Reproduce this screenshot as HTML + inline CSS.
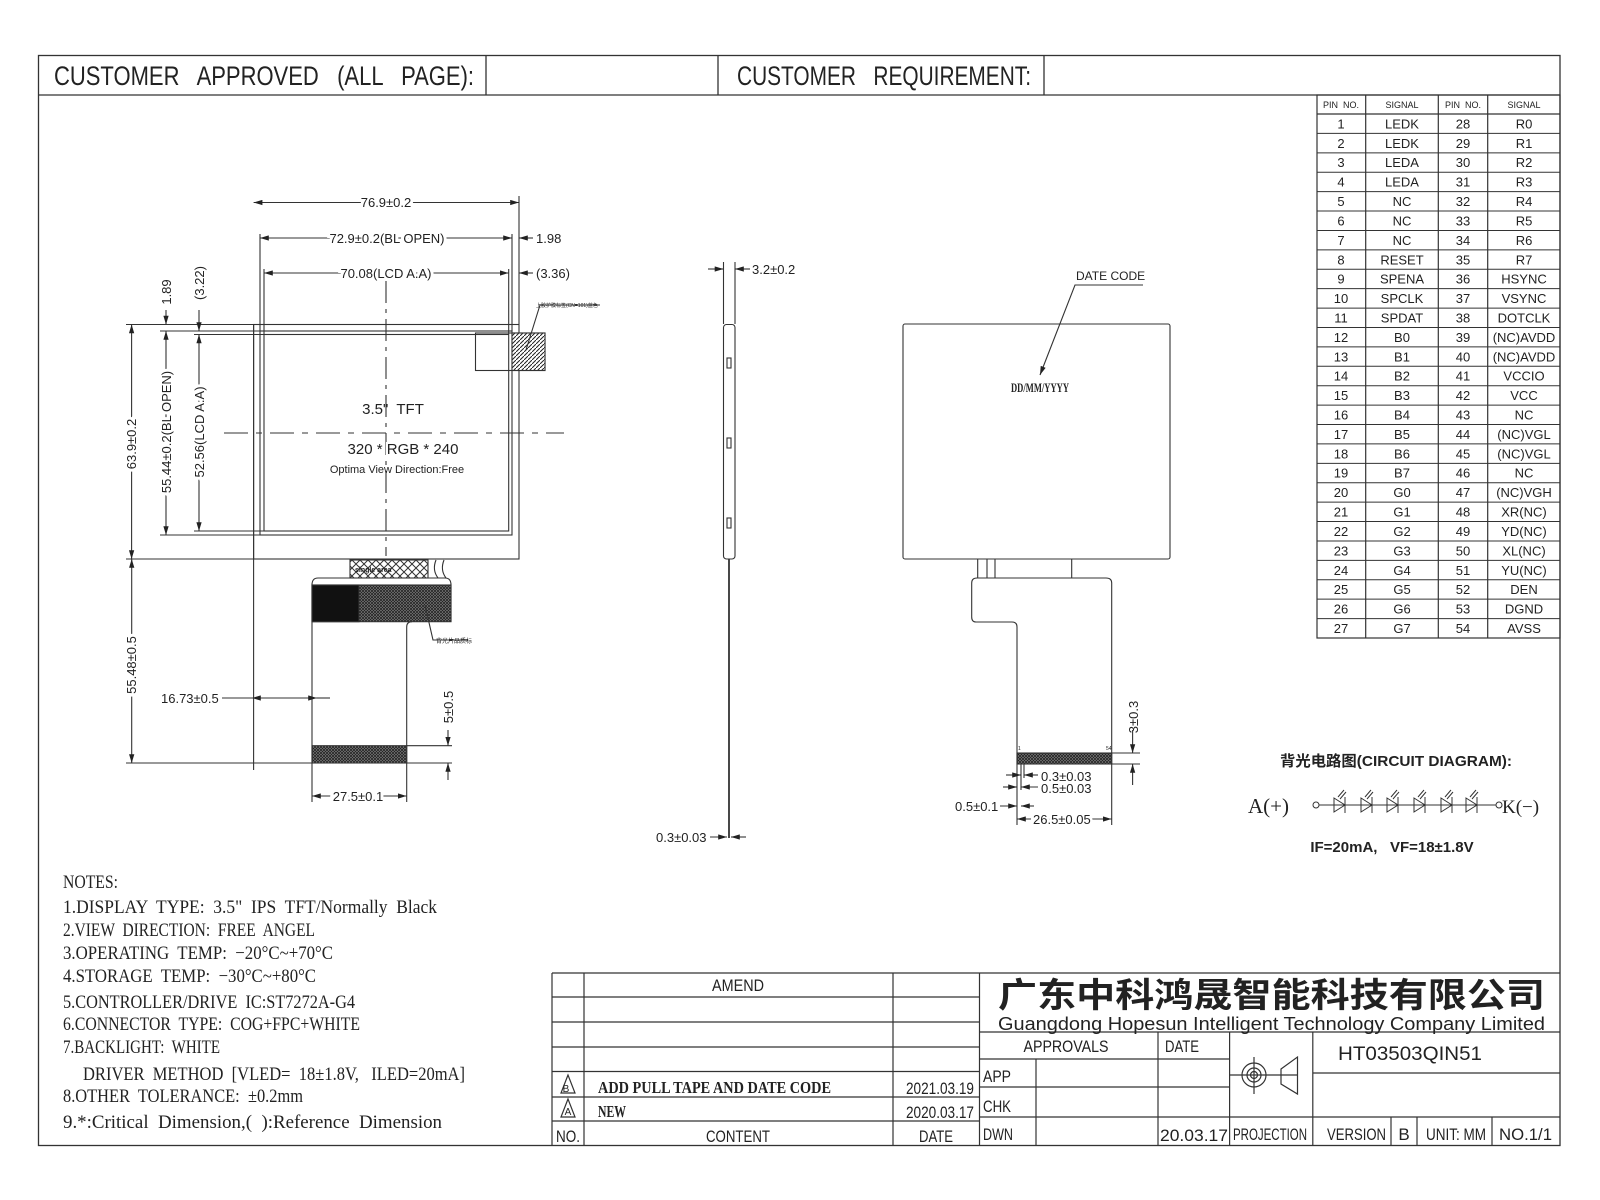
<!DOCTYPE html>
<html><head><meta charset="utf-8"><style>
html,body{margin:0;padding:0;background:#fff;}
svg{display:block;}
text{fill:#222;white-space:pre;}
.s{font-family:"Liberation Sans",sans-serif;}
.sr{font-family:"Liberation Serif",serif;}
.cj{font-family:"Liberation Sans","Noto Sans CJK SC",sans-serif;}
</style></head><body>
<svg width="1600" height="1200" viewBox="0 0 1600 1200" xmlns="http://www.w3.org/2000/svg" xml:space="preserve">
<defs>
<pattern id="xh" width="8" height="8" patternUnits="userSpaceOnUse"><rect width="8" height="8" fill="#fff"/><path d="M0 0L8 8M8 0L0 8" stroke="#333" stroke-width="1"/></pattern>
<pattern id="dh" width="3" height="3" patternUnits="userSpaceOnUse"><rect width="3" height="3" fill="#888"/><path d="M0 0L3 3M3 0L0 3" stroke="#222" stroke-width="0.8"/></pattern>
<pattern id="lh" width="4" height="4" patternUnits="userSpaceOnUse"><rect width="4" height="4" fill="#fff"/><path d="M0 4L4 0" stroke="#222" stroke-width="1"/></pattern>
<marker id="ar" viewBox="0 0 10 6" refX="10" refY="3" markerWidth="8" markerHeight="5" orient="auto-start-reverse"><path d="M0 0L10 3L0 6z" fill="#222"/></marker>
</defs>
<g stroke="#333" stroke-width="1.3" fill="none">
<rect x="38.5" y="55.5" width="1521.5" height="1090"/>
<line x1="38" y1="95" x2="1560" y2="95"/>
<line x1="486" y1="55" x2="486" y2="95"/>
<line x1="718" y1="55" x2="718" y2="95"/>
<line x1="1044" y1="55" x2="1044" y2="95"/>
</g>
<text class="s" x="54" y="85" font-size="27" textLength="420" lengthAdjust="spacingAndGlyphs">CUSTOMER   APPROVED   (ALL   PAGE):</text>
<text class="s" x="737" y="85" font-size="27" textLength="294" lengthAdjust="spacingAndGlyphs">CUSTOMER   REQUIREMENT:</text>

<g stroke="#333" stroke-width="1.2" fill="none">
<rect x="1317" y="95" width="243" height="543"/>
<line x1="1365.7" y1="95" x2="1365.7" y2="638"/>
<line x1="1438.3" y1="95" x2="1438.3" y2="638"/>
<line x1="1487.7" y1="95" x2="1487.7" y2="638"/>
<line x1="1317" y1="114" x2="1560" y2="114"/>
</g>
<g id="rows" stroke="#333" stroke-width="1"></g>
<g class="s" font-size="13" text-anchor="middle" id="pins">
<text x="1341" y="108" font-size="9">PIN  NO.</text><text x="1402" y="108" font-size="9">SIGNAL</text><text x="1463" y="108" font-size="9">PIN  NO.</text><text x="1524" y="108" font-size="9">SIGNAL</text>
</g>

<g stroke="#333" stroke-width="1.1" fill="none">
<rect x="253.6" y="324.5" width="265.4" height="234.5"/>
<rect x="260" y="331" width="252" height="204"/>
<rect x="264" y="334.5" width="244.7" height="196.5"/>
<rect x="475.5" y="333" width="69.5" height="37.5"/>
<rect x="512" y="333" width="33" height="37.5" fill="url(#lh)"/>
<path d="M526 350L540 305H600"/>
<line x1="386" y1="281" x2="386" y2="556" stroke-dasharray="22 6 4 6"/>
<line x1="224" y1="433" x2="564" y2="433" stroke-dasharray="24 8 6 8"/>
<line x1="253.6" y1="324" x2="253.6" y2="770"/>
<line x1="519" y1="324" x2="519" y2="196"/>
<line x1="253.6" y1="202.5" x2="519" y2="202.5" marker-start="url(#ar)" marker-end="url(#ar)"/>
<line x1="260" y1="331" x2="260" y2="234"/>
<line x1="512" y1="331" x2="512" y2="234"/>
<line x1="260" y1="238" x2="512" y2="238" marker-start="url(#ar)" marker-end="url(#ar)"/>
<line x1="519" y1="238" x2="533" y2="238" marker-start="url(#ar)"/>
<line x1="264" y1="334" x2="264" y2="269"/>
<line x1="508.7" y1="334" x2="508.7" y2="269"/>
<line x1="264" y1="273" x2="508.7" y2="273" marker-start="url(#ar)" marker-end="url(#ar)"/>
<line x1="519" y1="273" x2="533" y2="273" marker-start="url(#ar)"/>
<line x1="126" y1="324.5" x2="253.6" y2="324.5"/>
<line x1="160" y1="331" x2="260" y2="331"/>
<line x1="194" y1="334.5" x2="264" y2="334.5"/>
<line x1="160" y1="535" x2="260" y2="535"/>
<line x1="194" y1="531" x2="264" y2="531"/>
<line x1="126" y1="559" x2="253.6" y2="559"/>
<line x1="131.6" y1="324.5" x2="131.6" y2="559" marker-start="url(#ar)" marker-end="url(#ar)"/>
<line x1="166" y1="331" x2="166" y2="535" marker-start="url(#ar)" marker-end="url(#ar)"/>
<line x1="199" y1="334.5" x2="199" y2="531" marker-start="url(#ar)" marker-end="url(#ar)"/>
<line x1="166" y1="310" x2="166" y2="324.5" marker-end="url(#ar)"/>
<line x1="199" y1="310" x2="199" y2="331" marker-end="url(#ar)"/>
<line x1="131.7" y1="559" x2="131.7" y2="763" marker-start="url(#ar)" marker-end="url(#ar)"/>
<line x1="126" y1="763" x2="312" y2="763"/>
<rect x="350" y="560" width="78" height="18" fill="url(#xh)"/>
<path d="M312 621.7V585Q312 578 318 578H445Q451 578 451 585V621.7"/>
<rect x="312" y="585" width="139" height="36.7" fill="url(#dh)"/>
<rect x="312" y="585" width="47" height="36.7" fill="#111"/>
<path d="M436 560Q432 570 438 578M444 560Q440 570 446 578"/>
<path d="M312 621.7V763M406.7 763V627Q406.7 621.7 412 621.7"/>
<rect x="312" y="745.7" width="94.7" height="17.3" fill="url(#dh)"/>
<path d="M425 605L433 640H468"/>
<line x1="222" y1="698" x2="252" y2="698"/>
<line x1="252" y1="698" x2="317" y2="698" marker-start="url(#ar)" marker-end="url(#ar)"/>
<line x1="317" y1="698" x2="330" y2="698"/>
<line x1="312" y1="763" x2="312" y2="802"/>
<line x1="406.7" y1="763" x2="406.7" y2="802"/>
<line x1="312" y1="796" x2="406.7" y2="796" marker-start="url(#ar)" marker-end="url(#ar)"/>
<line x1="406.7" y1="745.7" x2="452" y2="745.7"/>
<line x1="406.7" y1="763" x2="452" y2="763"/>
<line x1="448" y1="730" x2="448" y2="745.7" marker-end="url(#ar)"/>
<line x1="448" y1="780" x2="448" y2="763" marker-end="url(#ar)"/>
</g>
<g class="s" font-size="13">
<text x="386" y="207" text-anchor="middle" stroke="#fff" stroke-width="6" paint-order="stroke">76.9±0.2</text>
<text x="387" y="243" text-anchor="middle" stroke="#fff" stroke-width="6" paint-order="stroke">72.9±0.2(BL OPEN)</text>
<text x="386" y="278" text-anchor="middle" stroke="#fff" stroke-width="6" paint-order="stroke">70.08(LCD A.A)</text>
<text x="536" y="243">1.98</text>
<text x="536" y="278">(3.36)</text>
<text x="536" y="307" font-size="5">上胶护膜标签(CN=101)蓝色</text>
<text x="393" y="414" font-size="15" text-anchor="middle">3.5"  TFT</text>
<text x="403" y="454" font-size="15" text-anchor="middle" stroke="#fff" stroke-width="4" paint-order="stroke">320 * RGB * 240</text>
<text x="397" y="473" font-size="11" text-anchor="middle">Optima View Direction:Free</text>
<text transform="translate(136,444) rotate(-90)" text-anchor="middle" stroke="#fff" stroke-width="6" paint-order="stroke">63.9±0.2</text>
<text transform="translate(171,432) rotate(-90)" text-anchor="middle" stroke="#fff" stroke-width="6" paint-order="stroke">55.44±0.2(BL OPEN)</text>
<text transform="translate(204,432) rotate(-90)" text-anchor="middle" stroke="#fff" stroke-width="6" paint-order="stroke">52.56(LCD A.A)</text>
<text transform="translate(171,292) rotate(-90)" text-anchor="middle">1.89</text>
<text transform="translate(204,283) rotate(-90)" text-anchor="middle">(3.22)</text>
<text transform="translate(136,665) rotate(-90)" text-anchor="middle" stroke="#fff" stroke-width="6" paint-order="stroke">55.48±0.5</text>
<text x="161" y="703">16.73±0.5</text>
<text x="358" y="801" text-anchor="middle" stroke="#fff" stroke-width="6" paint-order="stroke">27.5±0.1</text>
<text transform="translate(453,707) rotate(-90)" text-anchor="middle">5±0.5</text>
<text x="355" y="572" font-size="7" font-weight="bold">single area</text>
<text x="436" y="643" font-size="6">背光片品质标</text>
</g>

<g stroke="#333" stroke-width="1.1" fill="none">
<rect x="723.5" y="324.5" width="11.5" height="234.5" rx="3"/>
<rect x="727" y="358" width="4" height="10"/><rect x="727" y="438" width="4" height="10"/><rect x="727" y="518" width="4" height="10"/>
<line x1="723.5" y1="324" x2="723.5" y2="262"/>
<line x1="735" y1="324" x2="735" y2="262"/>
<line x1="708" y1="269" x2="723.5" y2="269" marker-end="url(#ar)"/>
<line x1="750" y1="269" x2="735" y2="269" marker-end="url(#ar)"/>
<line x1="729" y1="559" x2="729" y2="838" stroke-width="1.8"/>
<line x1="710" y1="837" x2="727" y2="837" marker-end="url(#ar)"/>
<line x1="746" y1="837" x2="731" y2="837" marker-end="url(#ar)"/>
</g>
<text class="s" x="752" y="274" font-size="13">3.2±0.2</text>
<text class="s" x="656" y="842" font-size="13">0.3±0.03</text>

<g stroke="#333" stroke-width="1.1" fill="none">
<rect x="903" y="324" width="267" height="235" rx="2"/>
<path d="M1143 285H1075L1040 375" marker-end="url(#ar)"/>
<path d="M977.7 559V578M987 559V578M995 559V578M1071.7 559V578"/>
<path d="M1017 764V627Q1017 622 1012 622H976Q971.7 622 971.7 617V583Q971.7 578 977 578H1106Q1111.7 578 1111.7 583V764"/>
<rect x="1017" y="753" width="94.7" height="11" fill="url(#dh)"/>
<line x1="1111.7" y1="753" x2="1140" y2="753"/>
<line x1="1111.7" y1="764" x2="1140" y2="764"/>
<line x1="1132.6" y1="730" x2="1132.6" y2="753" marker-end="url(#ar)"/>
<line x1="1132.6" y1="785" x2="1132.6" y2="764" marker-end="url(#ar)"/>
<line x1="1017" y1="764" x2="1017" y2="825"/>
<line x1="1111.7" y1="764" x2="1111.7" y2="825"/>
<line x1="1021" y1="764" x2="1021" y2="790"/>
<line x1="1024" y1="764" x2="1024" y2="778"/>
<line x1="1017" y1="819" x2="1111.7" y2="819" marker-start="url(#ar)" marker-end="url(#ar)"/>
<line x1="1006" y1="775" x2="1021" y2="775" marker-end="url(#ar)"/><line x1="1038" y1="775" x2="1024" y2="775" marker-end="url(#ar)"/>
<line x1="1003" y1="787" x2="1017" y2="787" marker-end="url(#ar)"/><line x1="1038" y1="787" x2="1021" y2="787" marker-end="url(#ar)"/>
<line x1="1000" y1="806" x2="1017" y2="806" marker-end="url(#ar)"/><line x1="1034" y1="806" x2="1021" y2="806" marker-end="url(#ar)"/>
</g>
<g class="s" font-size="13">
<text x="1076" y="280" font-size="12">DATE CODE</text>
<text x="1011" y="392" font-size="13" font-weight="bold" textLength="58" lengthAdjust="spacingAndGlyphs" class="sr">DD/MM/YYYY</text>
<text x="1018" y="750" font-size="5">1</text><text x="1106" y="750" font-size="5">54</text>
<text transform="translate(1138,717) rotate(-90)" text-anchor="middle">3±0.3</text>
<text x="1041" y="781">0.3±0.03</text>
<text x="1041" y="793">0.5±0.03</text>
<text x="955" y="811">0.5±0.1</text>
<text x="1033" y="824" stroke="#fff" stroke-width="5" paint-order="stroke">26.5±0.05</text>
</g>

<text class="cj" x="1280" y="766" font-size="15" font-weight="bold" textLength="232" lengthAdjust="spacingAndGlyphs">背光电路图(CIRCUIT DIAGRAM):</text>
<text class="sr" x="1248" y="813" font-size="21">A(+)</text>
<text class="sr" x="1502" y="813" font-size="19">K(−)</text>
<g stroke="#333" stroke-width="1" fill="none" id="leds">
<circle cx="1316" cy="805" r="3"/><circle cx="1499" cy="805" r="3"/>
<line x1="1319" y1="805" x2="1496" y2="805"/>
</g>
<text class="s" x="1392" y="852" font-size="15" font-weight="bold" text-anchor="middle">IF=20mA,   VF=18±1.8V</text>

<g class="sr" font-size="19">
<text x="63" y="888" textLength="55" lengthAdjust="spacingAndGlyphs">NOTES:</text>
<text x="63" y="913" textLength="374" lengthAdjust="spacingAndGlyphs">1.DISPLAY  TYPE:  3.5"  IPS  TFT/Normally  Black</text>
<text x="63" y="936" textLength="252" lengthAdjust="spacingAndGlyphs">2.VIEW  DIRECTION:  FREE  ANGEL</text>
<text x="63" y="959" textLength="270" lengthAdjust="spacingAndGlyphs">3.OPERATING  TEMP:  −20°C~+70°C</text>
<text x="63" y="982" textLength="253" lengthAdjust="spacingAndGlyphs">4.STORAGE  TEMP:  −30°C~+80°C</text>
<text x="63" y="1008" textLength="292" lengthAdjust="spacingAndGlyphs">5.CONTROLLER/DRIVE  IC:ST7272A-G4</text>
<text x="63" y="1030" textLength="297" lengthAdjust="spacingAndGlyphs">6.CONNECTOR  TYPE:  COG+FPC+WHITE</text>
<text x="63" y="1053" textLength="157" lengthAdjust="spacingAndGlyphs">7.BACKLIGHT:  WHITE</text>
<text x="83" y="1080" textLength="382" lengthAdjust="spacingAndGlyphs">DRIVER  METHOD  [VLED=  18±1.8V,   ILED=20mA]</text>
<text x="63" y="1102" textLength="240" lengthAdjust="spacingAndGlyphs">8.OTHER  TOLERANCE:  ±0.2mm</text>
<text x="63" y="1128" textLength="379" lengthAdjust="spacingAndGlyphs">9.*:Critical  Dimension,(  ):Reference  Dimension</text>
</g>

<g stroke="#333" stroke-width="1.2" fill="none">
<line x1="552" y1="973" x2="1560" y2="973"/>
<line x1="552" y1="973" x2="552" y2="1145"/>
<line x1="584" y1="973" x2="584" y2="1145"/>
<line x1="893" y1="973" x2="893" y2="1145"/>
<line x1="979.5" y1="973" x2="979.5" y2="1145"/>
<line x1="552" y1="997" x2="979.5" y2="997"/>
<line x1="552" y1="1022" x2="979.5" y2="1022"/>
<line x1="552" y1="1047" x2="979.5" y2="1047"/>
<line x1="552" y1="1071.5" x2="979.5" y2="1071.5"/>
<line x1="552" y1="1097" x2="979.5" y2="1097"/>
<line x1="552" y1="1121" x2="979.5" y2="1121"/>
<line x1="979.5" y1="1032" x2="1560" y2="1032"/>
<line x1="979.5" y1="1059" x2="1229.6" y2="1059"/>
<line x1="979.5" y1="1087" x2="1229.6" y2="1087"/>
<line x1="979.5" y1="1117" x2="1560" y2="1117"/>
<line x1="1036" y1="1059" x2="1036" y2="1145"/>
<line x1="1158" y1="1032" x2="1158" y2="1145"/>
<line x1="1229.6" y1="1032" x2="1229.6" y2="1145"/>
<line x1="1312.8" y1="1032" x2="1312.8" y2="1145"/>
<line x1="1312.8" y1="1073" x2="1560" y2="1073"/>
<line x1="1391" y1="1117" x2="1391" y2="1145"/>
<line x1="1417" y1="1117" x2="1417" y2="1145"/>
<line x1="1492" y1="1117" x2="1492" y2="1145"/>
<circle cx="1254" cy="1075" r="12"/><circle cx="1254" cy="1075" r="7"/><circle cx="1254" cy="1075" r="3.5"/>
<line x1="1230" y1="1075" x2="1298" y2="1075"/>
<line x1="1254" y1="1057" x2="1254" y2="1094"/>
<path d="M1281 1069L1297.5 1057V1094L1281 1084Z"/>
<path d="M568 1075L561 1093H575Z"/><path d="M568 1099L561 1117H575Z"/>
</g>
<g class="s" font-size="17">
<text x="738" y="991" text-anchor="middle" textLength="52" lengthAdjust="spacingAndGlyphs">AMEND</text>
<text class="sr" x="598" y="1093" font-size="17" font-weight="bold" textLength="233" lengthAdjust="spacingAndGlyphs">ADD PULL TAPE AND DATE CODE</text>
<text class="sr" x="598" y="1117" font-size="17" font-weight="bold" textLength="28" lengthAdjust="spacingAndGlyphs">NEW</text>
<text x="566" y="1092" font-size="10" text-anchor="middle">B</text><text x="568" y="1115" font-size="10" text-anchor="middle">A</text>
<text x="974" y="1094" text-anchor="end" textLength="68" lengthAdjust="spacingAndGlyphs">2021.03.19</text>
<text x="974" y="1118" text-anchor="end" textLength="68" lengthAdjust="spacingAndGlyphs">2020.03.17</text>
<text x="556" y="1142" textLength="24" lengthAdjust="spacingAndGlyphs">NO.</text>
<text x="738" y="1142" text-anchor="middle" textLength="64" lengthAdjust="spacingAndGlyphs">CONTENT</text>
<text x="936" y="1142" text-anchor="middle" textLength="34" lengthAdjust="spacingAndGlyphs">DATE</text>
<text class="cj" x="998" y="1007" font-size="34" font-weight="bold" textLength="547" lengthAdjust="spacingAndGlyphs">广东中科鸿晟智能科技有限公司</text>
<text x="998" y="1030" font-size="18" textLength="547" lengthAdjust="spacingAndGlyphs">Guangdong Hopesun Intelligent Technology Company Limited</text>
<text x="1066" y="1052" text-anchor="middle" textLength="85" lengthAdjust="spacingAndGlyphs">APPROVALS</text>
<text x="1165" y="1052" textLength="34" lengthAdjust="spacingAndGlyphs">DATE</text>
<text x="983" y="1082" textLength="28" lengthAdjust="spacingAndGlyphs">APP</text>
<text x="983" y="1112" textLength="28" lengthAdjust="spacingAndGlyphs">CHK</text>
<text x="983" y="1140" textLength="30" lengthAdjust="spacingAndGlyphs">DWN</text>
<text x="1160" y="1141" textLength="68" lengthAdjust="spacingAndGlyphs">20.03.17</text>
<text x="1233" y="1140" textLength="74" lengthAdjust="spacingAndGlyphs">PROJECTION</text>
<text x="1327" y="1140" textLength="59" lengthAdjust="spacingAndGlyphs">VERSION</text>
<text x="1404" y="1140" text-anchor="middle">B</text>
<text x="1426" y="1140" textLength="60" lengthAdjust="spacingAndGlyphs">UNIT: MM</text>
<text x="1499" y="1140" textLength="53" lengthAdjust="spacingAndGlyphs">NO.1/1</text>
<text x="1338" y="1060" font-size="19" textLength="144" lengthAdjust="spacingAndGlyphs">HT03503QIN51</text>
</g>
</svg>
<script>
(function(){
var ns="http://www.w3.org/2000/svg";
var L=["LEDK","LEDK","LEDA","LEDA","NC","NC","NC","RESET","SPENA","SPCLK","SPDAT","B0","B1","B2","B3","B4","B5","B6","B7","G0","G1","G2","G3","G4","G5","G6","G7"];
var R=["R0","R1","R2","R3","R4","R5","R6","R7","HSYNC","VSYNC","DOTCLK","(NC)AVDD","(NC)AVDD","VCCIO","VCC","NC","(NC)VGL","(NC)VGL","NC","(NC)VGH","XR(NC)","YD(NC)","XL(NC)","YU(NC)","DEN","DGND","AVSS"];
var rows=document.getElementById("rows"),pins=document.getElementById("pins");
var h=(638-114)/27;
function t(x,y,s){var e=document.createElementNS(ns,"text");e.setAttribute("x",x);e.setAttribute("y",y);e.textContent=s;pins.appendChild(e);}
for(var i=0;i<27;i++){
 var y=114+h*(i+1);
 if(i<26){var l=document.createElementNS(ns,"line");l.setAttribute("x1",1317);l.setAttribute("x2",1560);l.setAttribute("y1",y);l.setAttribute("y2",y);rows.appendChild(l);}
 var by=y-5;
 t(1341,by,String(i+1));t(1402,by,L[i]);t(1463,by,String(i+28));t(1524,by,R[i]);
}
var g=document.getElementById("leds");
[1340,1367,1393,1420,1447,1472].forEach(function(x){
 var p=document.createElementNS(ns,"path");
 p.setAttribute("d","M"+(x-6)+" 798L"+(x+5)+" 805L"+(x-6)+" 812ZM"+(x+5)+" 797V813M"+(x-2)+" 797L"+(x+4)+" 790M"+x+" 799L"+(x+6)+" 792");
 g.appendChild(p);
});
})();
</script>
</body></html>
